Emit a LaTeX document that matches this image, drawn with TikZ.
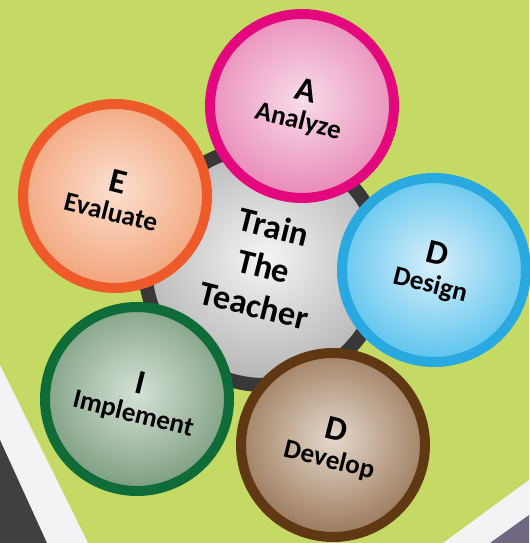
\documentclass[tikz,border=0pt]{standalone}
\usepackage{fontspec}
\setmainfont{Carlito}
\definecolor{lime}{HTML}{C5DA64}
\definecolor{bandwhite}{HTML}{F2F3F5}
\definecolor{banddark}{HTML}{404040}
\definecolor{bandplum}{HTML}{706882}
\newcommand{\phase}[2]{{\fontsize{19.5}{19.5}\selectfont #1}\\ #2}

\begin{document}
\begin{tikzpicture}
    [
      x=0.02cm,
      y=-0.02cm,
      phase/.style=
      {
        circle,
        align=center,
        inner sep=0pt,
        minimum size=3.68cm,
        line width=0.2cm,
        rotate=-14,
        text=black,
        font=\bfseries\fontsize{15.4}{16.5}\selectfont
      },
      hub/.style=
      {
        circle,
        align=center,
        inner sep=0pt,
        minimum size=4.76cm,
        line width=0.28cm,
        draw=black!78,
        inner color=black!4,
        outer color=black!29,
        rotate=-14,
        text=black,
        font=\bfseries\fontsize{19.5}{23}\selectfont
      }
    ]
    \useasboundingbox (0,0) rectangle (529,543);
    \fill[lime] (0,0) rectangle (529,543);
    % corner bands
    \fill[bandwhite] (0,365) -- (88,543) -- (0,543) -- cycle;
    \fill[banddark] (0,440) -- (47,543) -- (0,543) -- cycle;
    \fill[bandwhite] (443,543) -- (529,480) -- (529,543) -- cycle;
    \fill[bandplum] (490,543) -- (529,515) -- (529,543) -- cycle;

    \node[hub](TheHub) at (264,266) {Train\\The\\Teacher};

    \node[phase, draw={rgb,255:red,228;green,8;blue,127},
      inner color={rgb,255:red,248;green,221;blue,233},
      outer color={rgb,255:red,233;green,138;blue,184}](Analyze) at (302,106)
    {
      \phase{A}{Analyze}
    };
    \node[phase, draw={rgb,255:red,41;green,169;blue,224},
      inner color={rgb,255:red,216;green,240;blue,251},
      outer color={rgb,255:red,94;green,196;blue,238}](Design) at (434,270)
    {
      \phase{D}{Design}
    };
    \node[phase, draw={rgb,255:red,96;green,56;blue,19},
      inner color={rgb,255:red,228;green,216;blue,203},
      outer color={rgb,255:red,156;green,122;blue,93}](Develop) at (333,445)
    {
      \phase{D}{Develop}
    };
    \node[phase, draw={rgb,255:red,15;green,107;blue,56},
      inner color={rgb,255:red,213;green,226;blue,213},
      outer color={rgb,255:red,125;green,158;blue,130}](Implement) at (137,399)
    {
      \phase{I}{Implement}
    };
    \node[phase, draw={rgb,255:red,238;green,90;blue,42},
      inner color={rgb,255:red,252;green,224;blue,207},
      outer color={rgb,255:red,242;green,165;blue,124}](Evaluate) at (115,196)
    {
      \phase{E}{Evaluate}
    };
  \end{tikzpicture}
\end{document}
